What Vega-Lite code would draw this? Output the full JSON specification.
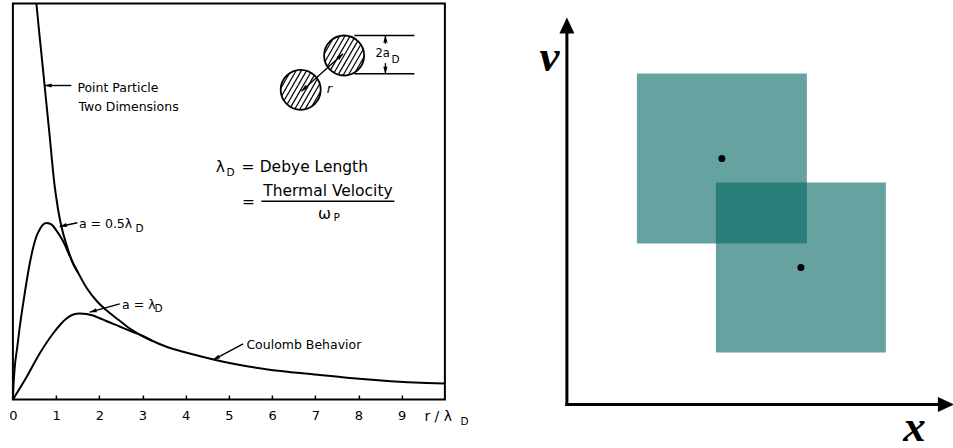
{
  "$schema": "https://vega.github.io/schema/vega-lite/v6.json",
  "background": "white",
  "padding": {"left": 6.9, "top": 1.5, "right": 0, "bottom": 0},
  "bounds": "flush",
  "spacing": 102,
  "config": {
    "font": "DejaVu Sans",
    "view": {"stroke": "black", "strokeWidth": 2},
    "axis": {"grid": false}
  },
  "datasets": {
    "curves": [
      {"curve": "point", "r": 0.544, "y": 396},
      {"curve": "point", "r": 0.6, "y": 371},
      {"curve": "point", "r": 0.65, "y": 350},
      {"curve": "point", "r": 0.729, "y": 316},
      {"curve": "point", "r": 0.85, "y": 264},
      {"curve": "point", "r": 0.968, "y": 213},
      {"curve": "point", "r": 1.007, "y": 201},
      {"curve": "point", "r": 1.046, "y": 190},
      {"curve": "point", "r": 1.123, "y": 173},
      {"curve": "point", "r": 1.238, "y": 155},
      {"curve": "point", "r": 1.394, "y": 136},
      {"curve": "point", "r": 1.5, "y": 127.5},
      {"curve": "point", "r": 1.701, "y": 112},
      {"curve": "point", "r": 1.95, "y": 98},
      {"curve": "point", "r": 2.2, "y": 88},
      {"curve": "point", "r": 2.45, "y": 79.5},
      {"curve": "point", "r": 2.67, "y": 72},
      {"curve": "point", "r": 3.0, "y": 63.5},
      {"curve": "point", "r": 3.21, "y": 59},
      {"curve": "point", "r": 3.6, "y": 52},
      {"curve": "point", "r": 4.0, "y": 47},
      {"curve": "point", "r": 4.36, "y": 43},
      {"curve": "point", "r": 4.9, "y": 37.5},
      {"curve": "point", "r": 5.45, "y": 33},
      {"curve": "point", "r": 6.2, "y": 28.5},
      {"curve": "point", "r": 6.98, "y": 25},
      {"curve": "point", "r": 7.8, "y": 21.5},
      {"curve": "point", "r": 8.53, "y": 19},
      {"curve": "point", "r": 9.3, "y": 17},
      {"curve": "point", "r": 10.0, "y": 16},
      {"curve": "half", "r": 0, "y": 0},
      {"curve": "half", "r": 0.015, "y": 15},
      {"curve": "half", "r": 0.042, "y": 32},
      {"curve": "half", "r": 0.1, "y": 52},
      {"curve": "half", "r": 0.157, "y": 72},
      {"curve": "half", "r": 0.273, "y": 106},
      {"curve": "half", "r": 0.39, "y": 136},
      {"curve": "half", "r": 0.47, "y": 152},
      {"curve": "half", "r": 0.544, "y": 163},
      {"curve": "half", "r": 0.62, "y": 170},
      {"curve": "half", "r": 0.7, "y": 175},
      {"curve": "half", "r": 0.775, "y": 176.5},
      {"curve": "half", "r": 0.85, "y": 176},
      {"curve": "half", "r": 0.93, "y": 173.5},
      {"curve": "half", "r": 1.007, "y": 169},
      {"curve": "half", "r": 1.1, "y": 163},
      {"curve": "half", "r": 1.2, "y": 155},
      {"curve": "half", "r": 1.3, "y": 145},
      {"curve": "half", "r": 1.394, "y": 136},
      {"curve": "half", "r": 1.5, "y": 127.5},
      {"curve": "full", "r": 0, "y": 0},
      {"curve": "full", "r": 0.31, "y": 22},
      {"curve": "full", "r": 0.62, "y": 46},
      {"curve": "full", "r": 0.93, "y": 66},
      {"curve": "full", "r": 1.1, "y": 75},
      {"curve": "full", "r": 1.24, "y": 81},
      {"curve": "full", "r": 1.4, "y": 85},
      {"curve": "full", "r": 1.547, "y": 86},
      {"curve": "full", "r": 1.7, "y": 85.5},
      {"curve": "full", "r": 1.856, "y": 84},
      {"curve": "full", "r": 2.0, "y": 81.5},
      {"curve": "full", "r": 2.16, "y": 78.5},
      {"curve": "full", "r": 2.47, "y": 73},
      {"curve": "full", "r": 2.78, "y": 67.5},
      {"curve": "full", "r": 3.0, "y": 63.5},
      {"curve": "full", "r": 3.21, "y": 59}
    ],
    "hatch": [
      {"r1": 7.205, "y1": 345.45, "r2": 7.407, "y2": 360.55},
      {"r1": 7.225, "y1": 337.97, "r2": 7.567, "y2": 363.53},
      {"r1": 7.28, "y1": 333.03, "r2": 7.693, "y2": 363.97},
      {"r1": 7.351, "y1": 329.37, "r2": 7.802, "y2": 363.13},
      {"r1": 7.435, "y1": 326.68, "r2": 7.898, "y2": 361.32},
      {"r1": 7.531, "y1": 324.87, "r2": 7.983, "y2": 358.63},
      {"r1": 7.64, "y1": 324.03, "r2": 8.054, "y2": 354.97},
      {"r1": 7.766, "y1": 324.47, "r2": 8.108, "y2": 350.03},
      {"r1": 7.927, "y1": 327.45, "r2": 8.128, "y2": 342.55},
      {"r1": 6.2, "y1": 311.15, "r2": 6.402, "y2": 326.25},
      {"r1": 6.221, "y1": 303.67, "r2": 6.562, "y2": 329.23},
      {"r1": 6.275, "y1": 298.73, "r2": 6.688, "y2": 329.67},
      {"r1": 6.346, "y1": 295.07, "r2": 6.797, "y2": 328.83},
      {"r1": 6.431, "y1": 292.38, "r2": 6.894, "y2": 327.02},
      {"r1": 6.527, "y1": 290.57, "r2": 6.978, "y2": 324.33},
      {"r1": 6.636, "y1": 289.73, "r2": 7.049, "y2": 320.67},
      {"r1": 6.762, "y1": 290.17, "r2": 7.103, "y2": 315.73},
      {"r1": 6.922, "y1": 293.15, "r2": 7.124, "y2": 308.25}
    ],
    "circles": [
      {"r": 7.667, "y": 344},
      {"r": 6.662, "y": 309.7}
    ],
    "leaders": [
      {"r1": 1.354, "y1": 314, "r2": 0.736, "y2": 314},
      {"r1": 1.493, "y1": 176.7, "r2": 1.083, "y2": 173},
      {"r1": 2.472, "y1": 95.7, "r2": 1.778, "y2": 87.3},
      {"r1": 5.329, "y1": 55.7, "r2": 4.634, "y2": 39.7},
      {"r1": 6.678, "y1": 308.3, "r2": 7.644, "y2": 345.7},
      {"r1": 7.905, "y1": 364, "r2": 9.294, "y2": 364},
      {"r1": 7.905, "y1": 325.7, "r2": 9.294, "y2": 325.7},
      {"r1": 8.623, "y1": 364, "r2": 8.623, "y2": 355.7},
      {"r1": 8.623, "y1": 336.3, "r2": 8.623, "y2": 325.7},
      {"r1": 5.752, "y1": 198.3, "r2": 8.831, "y2": 198.3}
    ],
    "heads": [
      {"r": 0.736, "y": 314, "angle": 0},
      {"r": 1.083, "y": 173, "angle": -11.8},
      {"r": 1.778, "y": 87.3, "angle": -15.6},
      {"r": 4.634, "y": 39.7, "angle": -28},
      {"r": 6.678, "y": 308.3, "angle": -41.9},
      {"r": 7.644, "y": 345.7, "angle": 138.1},
      {"r": 8.623, "y": 364, "angle": 90},
      {"r": 8.623, "y": 325.7, "angle": -90}
    ],
    "notes": [
      {"r": 1.493, "y": 312, "text": "Point Particle"},
      {"r": 1.516, "y": 293, "text": "Two Dimensions"},
      {"r": 5.405, "y": 54.7, "text": "Coulomb Behavior"},
      {"r": 1.528, "y": 175.7, "text": "a = 0.5λ"},
      {"r": 2.528, "y": 94, "text": "a = λ"}
    ],
    "big": [
      {"r": 4.694, "y": 232.3, "text": "λ"},
      {"r": 5.713, "y": 232.3, "text": "Debye Length"},
      {"r": 7.065, "y": 185.7, "text": "ω"}
    ],
    "axisTitle": [
      {"r": 9.525, "y": -18, "text": "r / λ"}
    ],
    "centered": [
      {"r": 5.444, "y": 232.3, "text": "="},
      {"r": 5.451, "y": 198, "text": "="},
      {"r": 7.292, "y": 209, "text": "Thermal Velocity"}
    ],
    "subs": [
      {"r": 2.836, "y": 170.7, "text": "D"},
      {"r": 3.275, "y": 90.7, "text": "D"},
      {"r": 4.942, "y": 226.5, "text": "D"},
      {"r": 7.42, "y": 182, "text": "P"},
      {"r": 8.762, "y": 340, "text": "D"},
      {"r": 10.359, "y": -22.5, "text": "D"}
    ],
    "small": [
      {"r": 8.391, "y": 345.7, "text": "2a"}
    ],
    "italic": [
      {"r": 7.326, "y": 311, "text": "r"}
    ],
    "squares": [
      {"u1": 2.25, "u2": 6.5, "v1": 5.1, "v2": 9.35},
      {"u1": 4.225, "u2": 8.475, "v1": 2.375, "v2": 6.625}
    ],
    "axesLines": [
      {"u1": 0.5, "v1": 1.075, "u2": 0.5, "v2": 10.55},
      {"u1": 0.5, "v1": 1.075, "u2": 9.975, "v2": 1.075}
    ],
    "axisHeads": [
      {"u": 0.5, "v": 10.55, "angle": 0},
      {"u": 9.975, "v": 1.075, "angle": 90}
    ],
    "dots": [
      {"u": 4.375, "v": 7.225},
      {"u": 6.35, "v": 4.5}
    ],
    "letters": [
      {"u": 0.0625, "v": 9.425, "label": "v"},
      {"u": 9.1875, "v": 0.16, "label": "x"}
    ]
  },
  "hconcat": [
    {
      "width": 432,
      "height": 396,
      "resolve": {"axis": {"x": "independent"}},
      "layer": [
        {
          "data": {"name": "curves"},
          "mark": {"type": "line", "color": "black", "strokeWidth": 2, "strokeJoin": "round", "interpolate": "monotone"},
          "encoding": {
            "x": {
              "field": "r", "type": "quantitative",
              "scale": {"domain": [0, 10], "nice": false, "zero": false},
              "axis": {
                "orient": "bottom", "title": null, "values": [0, 1, 2, 3, 4, 5, 6, 7, 8, 9], "format": "d",
                "ticks": false, "domain": false,
                "labelFontSize": 13, "labelColor": "black", "labelPadding": 10.5,
                "labelFont": "DejaVu Sans", "labelFlush": false, "labelOverlap": false
              }
            },
            "y": {"field": "y", "type": "quantitative", "scale": {"domain": [0, 396], "nice": false}, "axis": null},
            "detail": {"field": "curve"}
          }
        },
        {
          "data": {"name": "hatch"},
          "mark": {"type": "rule", "color": "black", "strokeWidth": 1.2},
          "encoding": {
            "x": {"field": "r1", "type": "quantitative", "axis": null},
            "x2": {"field": "r2"},
            "y": {"field": "y1", "type": "quantitative", "axis": null},
            "y2": {"field": "y2"}
          }
        },
        {
          "data": {"name": "circles"},
          "mark": {"type": "point", "shape": "circle", "size": 1600, "filled": false, "color": "black", "strokeWidth": 1.8, "opacity": 1},
          "encoding": {
            "x": {"field": "r", "type": "quantitative", "axis": null},
            "y": {"field": "y", "type": "quantitative", "axis": null}
          }
        },
        {
          "data": {"name": "leaders"},
          "mark": {"type": "rule", "color": "black", "strokeWidth": 1.4},
          "encoding": {
            "x": {
              "field": "r1", "type": "quantitative",
              "axis": {
                "orient": "top", "offset": -396, "title": null, "values": [0, 1, 2, 3, 4, 5, 6, 7, 8, 9],
                "labels": false, "domain": false, "ticks": true, "tickSize": 4.5, "tickWidth": 1.5, "tickColor": "black"
              }
            },
            "x2": {"field": "r2"},
            "y": {"field": "y1", "type": "quantitative", "axis": null},
            "y2": {"field": "y2"}
          }
        },
        {
          "data": {"name": "heads"},
          "mark": {"type": "point", "shape": "M0,0L1,-0.3L1,0.3Z", "size": 196, "filled": true, "color": "black", "opacity": 1},
          "encoding": {
            "x": {"field": "r", "type": "quantitative", "axis": null},
            "y": {"field": "y", "type": "quantitative", "axis": null},
            "angle": {"field": "angle", "type": "quantitative", "scale": null}
          }
        },
        {
          "data": {"name": "notes"},
          "mark": {"type": "text", "align": "left", "baseline": "middle", "fontSize": 12.5, "color": "black"},
          "encoding": {
            "x": {"field": "r", "type": "quantitative", "axis": null},
            "y": {"field": "y", "type": "quantitative", "axis": null},
            "text": {"field": "text"}
          }
        },
        {
          "data": {"name": "big"},
          "mark": {"type": "text", "align": "left", "baseline": "middle", "fontSize": 15.5, "color": "black"},
          "encoding": {
            "x": {"field": "r", "type": "quantitative", "axis": null},
            "y": {"field": "y", "type": "quantitative", "axis": null},
            "text": {"field": "text"}
          }
        },
        {
          "data": {"name": "axisTitle"},
          "mark": {"type": "text", "align": "left", "baseline": "middle", "fontSize": 14, "color": "black"},
          "encoding": {
            "x": {"field": "r", "type": "quantitative", "axis": null},
            "y": {"field": "y", "type": "quantitative", "axis": null},
            "text": {"field": "text"}
          }
        },
        {
          "data": {"name": "centered"},
          "mark": {"type": "text", "align": "center", "baseline": "middle", "fontSize": 15.5, "color": "black"},
          "encoding": {
            "x": {"field": "r", "type": "quantitative", "axis": null},
            "y": {"field": "y", "type": "quantitative", "axis": null},
            "text": {"field": "text"}
          }
        },
        {
          "data": {"name": "subs"},
          "mark": {"type": "text", "align": "left", "baseline": "middle", "fontSize": 10.5, "color": "black"},
          "encoding": {
            "x": {"field": "r", "type": "quantitative", "axis": null},
            "y": {"field": "y", "type": "quantitative", "axis": null},
            "text": {"field": "text"}
          }
        },
        {
          "data": {"name": "small"},
          "mark": {"type": "text", "align": "left", "baseline": "middle", "fontSize": 11.5, "color": "black"},
          "encoding": {
            "x": {"field": "r", "type": "quantitative", "axis": null},
            "y": {"field": "y", "type": "quantitative", "axis": null},
            "text": {"field": "text"}
          }
        },
        {
          "data": {"name": "italic"},
          "mark": {"type": "text", "align": "center", "baseline": "middle", "fontSize": 13, "fontStyle": "italic", "color": "black"},
          "encoding": {
            "x": {"field": "r", "type": "quantitative", "axis": null},
            "y": {"field": "y", "type": "quantitative", "axis": null},
            "text": {"field": "text"}
          }
        }
      ]
    },
    {
      "width": 408,
      "height": 444,
      "view": {"stroke": null},
      "layer": [
        {
          "data": {"name": "squares"},
          "mark": {"type": "rect", "color": "#006660", "opacity": 0.6},
          "encoding": {
            "x": {"field": "u1", "type": "quantitative", "scale": {"domain": [0, 10.2], "nice": false, "zero": false}, "axis": null},
            "x2": {"field": "u2"},
            "y": {"field": "v1", "type": "quantitative", "scale": {"domain": [0, 11.1], "nice": false, "zero": false}, "axis": null},
            "y2": {"field": "v2"}
          }
        },
        {
          "data": {"name": "axesLines"},
          "mark": {"type": "rule", "color": "black", "strokeWidth": 3, "strokeCap": "square"},
          "encoding": {
            "x": {"field": "u1", "type": "quantitative", "axis": null},
            "x2": {"field": "u2"},
            "y": {"field": "v1", "type": "quantitative", "axis": null},
            "y2": {"field": "v2"}
          }
        },
        {
          "data": {"name": "axisHeads"},
          "mark": {"type": "point", "shape": "M0,-1L0.9375,1L-0.9375,1Z", "size": 256, "filled": true, "color": "black", "opacity": 1},
          "encoding": {
            "x": {"field": "u", "type": "quantitative", "axis": null},
            "y": {"field": "v", "type": "quantitative", "axis": null},
            "angle": {"field": "angle", "type": "quantitative", "scale": null}
          }
        },
        {
          "data": {"name": "dots"},
          "mark": {"type": "point", "shape": "circle", "size": 49, "filled": true, "color": "black", "opacity": 1},
          "encoding": {
            "x": {"field": "u", "type": "quantitative", "axis": null},
            "y": {"field": "v", "type": "quantitative", "axis": null}
          }
        },
        {
          "data": {"name": "letters"},
          "mark": {"type": "text", "align": "center", "baseline": "alphabetic", "font": "Liberation Serif", "fontStyle": "italic", "fontWeight": "bold", "fontSize": 45, "color": "black"},
          "encoding": {
            "x": {"field": "u", "type": "quantitative", "axis": null},
            "y": {"field": "v", "type": "quantitative", "axis": null},
            "text": {"field": "label"}
          }
        }
      ]
    }
  ]
}
